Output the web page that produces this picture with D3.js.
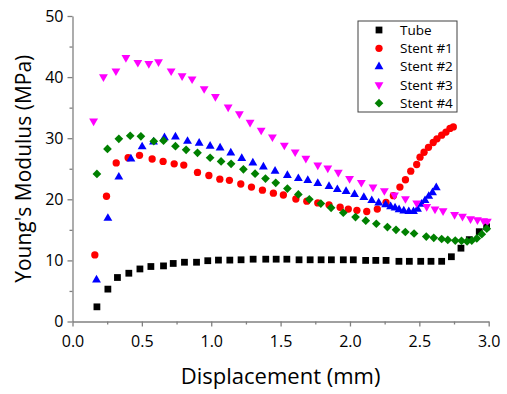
<!DOCTYPE html>
<html>
<head>
<meta charset="utf-8">
<script src="https://cdn.jsdelivr.net/npm/d3@7"></script>
<style>
  body { margin: 0; background: #fff; }
  text { font-family: "Open Sans", sans-serif; fill: #000; }
</style>
</head>
<body>
<div id="chart"></div>
<script>
// values
const tubeX = [0.176,0.255,0.324,0.406,0.486,0.565,0.656,0.726,0.807,0.894,0.975,1.052,1.134,1.215,1.302,1.393,1.468,1.545,1.633,1.713,1.792,1.866,1.952,2.024,2.113,2.186,2.260,2.353,2.428,2.510,2.584,2.661,2.731,2.800,2.860,2.932,2.985];
const tubeY = [2.4,5.3,7.2,7.9,8.6,9.0,9.1,9.5,9.7,9.7,9.95,10.05,10.05,10.1,10.2,10.2,10.2,10.2,10.1,10.1,10.1,10.1,10.1,10.1,10.0,10.0,10.0,9.85,9.85,9.85,9.85,9.85,10.6,12.0,13.4,14.7,15.5];

const stent1X = [0.161,0.245,0.315,0.401,0.483,0.574,0.653,0.733,0.802,0.901,0.983,1.062,1.131,1.213,1.290,1.369,1.448,1.520,1.610,1.689,1.768,1.849,1.929,1.988,2.05,2.121,2.197,2.26,2.313,2.36,2.40,2.438,2.481,2.505,2.534,2.566,2.60,2.627,2.661,2.692,2.721,2.745];
const stent1Y = [10.9,20.5,25.95,26.8,27.2,26.6,26.2,25.8,25.6,24.4,23.9,23.3,23.1,22.5,22.0,21.5,21.0,20.7,20.05,19.7,19.4,19.1,18.7,18.4,18.2,18.0,18.4,19.5,20.6,22.0,23.2,24.6,25.7,26.9,27.7,28.5,29.3,29.9,30.5,31.0,31.6,31.85];

const stent2X = [0.173,0.255,0.334,0.421,0.502,0.584,0.663,0.742,0.829,0.913,0.992,1.064,1.141,1.220,1.300,1.376,1.460,1.549,1.628,1.696,1.768,1.849,1.909,1.972,2.033,2.10,2.157,2.207,2.257,2.293,2.325,2.354,2.388,2.424,2.458,2.487,2.516,2.541,2.568,2.595,2.622];
const stent2Y = [6.8,16.9,23.65,26.6,28.6,29.4,30.1,30.2,29.5,29.2,28.7,28.4,27.6,26.7,25.95,25.3,24.6,23.9,23.4,23.1,22.6,22.1,21.6,21.3,20.8,20.3,19.8,19.4,19.1,18.8,18.6,18.3,18.1,18.0,18.0,18.4,19.2,19.8,20.5,21.1,21.9];

const stent3X = [0.152,0.223,0.313,0.385,0.471,0.550,0.620,0.711,0.790,0.862,0.949,1.030,1.122,1.203,1.280,1.360,1.441,1.527,1.605,1.682,1.768,1.840,1.916,1.997,2.082,2.166,2.248,2.321,2.40,2.481,2.553,2.613,2.671,2.754,2.811,2.869,2.919,2.963,2.99];
const stent3Y = [32.8,40.05,41.0,43.2,42.4,42.2,42.5,41.0,40.2,39.7,38.1,36.8,35.1,34.0,32.6,31.3,30.2,28.85,27.75,26.7,25.6,25.1,24.4,23.4,22.75,22.0,21.4,20.7,20.1,19.4,18.8,18.4,18.1,17.5,17.2,16.8,16.65,16.5,16.4];

const stent4X = [0.176,0.252,0.334,0.416,0.493,0.586,0.656,0.742,0.819,0.901,0.992,1.071,1.143,1.232,1.316,1.391,1.465,1.549,1.628,1.707,1.790,1.864,1.952,2.04,2.114,2.19,2.27,2.332,2.399,2.462,2.55,2.604,2.661,2.705,2.759,2.804,2.844,2.878,2.914,2.95,2.986];
const stent4Y = [24.15,28.25,29.9,30.4,30.3,29.5,29.6,28.7,28.1,27.6,26.8,26.2,25.8,24.9,24.2,23.4,22.7,21.75,20.8,20.0,19.3,18.6,17.8,17.1,16.5,16.0,15.45,15.0,14.65,14.4,13.9,13.7,13.5,13.35,13.25,13.2,13.1,13.25,13.6,14.3,15.2];

const seriesNames = ['Tube', 'Stent #1', 'Stent #2', 'Stent #3', 'Stent #4'];
const xMajorTicks = [0, 0.5, 1.0, 1.5, 2.0, 2.5, 3.0];
const xMinorTicks = [0.25, 0.75, 1.25, 1.75, 2.25, 2.75];
const yMajorTicks = [0, 10, 20, 30, 40, 50];
const yMinorTicks = [5, 15, 25, 35, 45];

// marker look per series
const styles = [
  { color: '#000000', type: d3.symbolSquare, size: 46, rotate: 0 },
  { color: '#ff0000', type: d3.symbolCircle, size: 42, rotate: 0 },
  { color: '#0000ff', type: d3.symbolTriangle, size: 34, rotate: 0 },
  { color: '#ff00ff', type: d3.symbolTriangle, size: 34, rotate: 180 },
  { color: '#008000', type: d3.symbolSquare, size: 38, rotate: 45 }
];

const series = [
  [tubeX, tubeY], [stent1X, stent1Y], [stent2X, stent2Y], [stent3X, stent3Y], [stent4X, stent4Y]
].map(([xs, ys], i) => ({
  name: seriesNames[i],
  style: styles[i],
  points: xs.map((x, j) => ({ x: x, y: ys[j] }))
}));

const W = 507, H = 394;
const plot = { left: 72.5, right: 488.7, top: 16, bottom: 321.5 };

const svg = d3.select('#chart')
  .append('svg')
  .attr('width', W)
  .attr('height', H);

svg.append('rect').attr('width', W).attr('height', H).attr('fill', '#fff');

const xScale = d3.scaleLinear().domain([0, 3]).range([plot.left, plot.right]);
const yScale = d3.scaleLinear().domain([0, 50]).range([plot.bottom, plot.top]);

const axisColor = '#808080';

// X axis
svg.append('g')
  .attr('transform', `translate(0,${plot.bottom})`)
  .call(d3.axisBottom(xScale).tickValues(xMajorTicks).tickFormat(d3.format('.1f'))
    .tickSize(5).tickSizeOuter(0).tickPadding(9));
svg.append('g')
  .attr('transform', `translate(0,${plot.bottom})`)
  .call(d3.axisBottom(xScale).tickValues(xMinorTicks).tickFormat('').tickSize(3).tickSizeOuter(0))
  .select('.domain').remove();

// Y axis
svg.append('g')
  .attr('transform', `translate(${plot.left},0)`)
  .call(d3.axisLeft(yScale).tickValues(yMajorTicks).tickSize(5).tickSizeOuter(0).tickPadding(4));
svg.append('g')
  .attr('transform', `translate(${plot.left},0)`)
  .call(d3.axisLeft(yScale).tickValues(yMinorTicks).tickFormat('').tickSize(3).tickSizeOuter(0))
  .select('.domain').remove();

svg.selectAll('.domain, .tick line').attr('stroke', axisColor).attr('stroke-width', 1.3);
svg.selectAll('.tick text')
  .style('font-family', '"Open Sans", sans-serif')
  .style('font-size', '16px')
  .attr('fill', '#000');

// axis titles
svg.append('text')
  .attr('x', (plot.left + plot.right) / 2)
  .attr('y', 384)
  .attr('text-anchor', 'middle')
  .style('font-size', '22px')
  .text('Displacement (mm)');

svg.append('text')
  .attr('transform', `translate(31,${(plot.top + plot.bottom) / 2}) rotate(-90)`)
  .attr('text-anchor', 'middle')
  .style('font-size', '21px')
  .text("Young's Modulus (MPa)");

// points
const symbolPath = s => d3.symbol().type(s.type).size(s.size)();

series.forEach(s => {
  svg.append('g')
    .selectAll('path')
    .data(s.points)
    .enter()
    .append('path')
    .attr('d', symbolPath(s.style))
    .attr('fill', s.style.color)
    .attr('transform', d => `translate(${xScale(d.x)},${yScale(d.y)}) rotate(${s.style.rotate})`);
});

// legend
const legend = svg.append('g').attr('transform', 'translate(358,21)');
legend.append('rect')
  .attr('width', 99).attr('height', 91)
  .attr('fill', '#fff').attr('stroke', '#404040').attr('stroke-width', 1);

const rows = legend.selectAll('.row')
  .data(series)
  .enter()
  .append('g')
  .attr('transform', (d, i) => `translate(0,${9 + i * 18.3})`);

rows.append('path')
  .attr('d', d => symbolPath(d.style))
  .attr('fill', d => d.style.color)
  .attr('transform', d => `translate(21,0) rotate(${d.style.rotate})`);

rows.append('text')
  .attr('x', 42)
  .attr('dy', '0.35em')
  .style('font-size', '13.5px')
  .text(d => d.name);
</script>
</body>
</html>
